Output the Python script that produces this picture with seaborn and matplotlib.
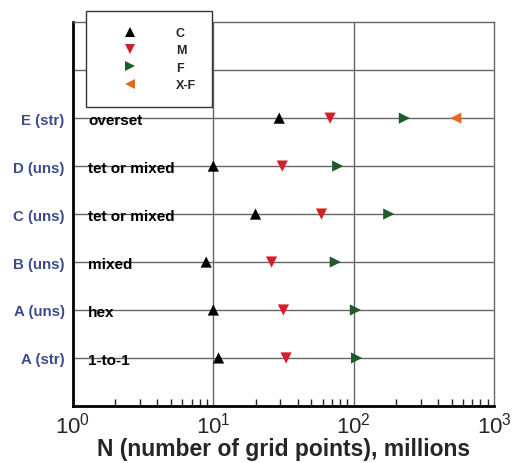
import numpy as np
import pandas as pd
import matplotlib
matplotlib.use("Agg")
import matplotlib.pyplot as plt
from matplotlib.ticker import LogLocator, NullFormatter
from matplotlib.lines import Line2D
import seaborn as sns

# Grid families, bottom to top
families = ["A (str)", "A (uns)", "B (uns)", "C (uns)", "D (uns)", "E (str)"]
grid_types = ["1-to-1", "hex", "mixed", "tet or mixed", "tet or mixed", "overset"]

# Grid sizes in millions of points per level
coarse = [10.9, 10.0, 8.9, 20.0, 10.0, 29.5]
medium = [33.0, 31.6, 26.0, 59.0, 31.0, 68.0]
fine = [105.0, 103.0, 74.0, 178.0, 77.0, 230.0]
extra_fine = [None, None, None, None, None, 535.0]

levels = ["C", "M", "F", "X-F"]
colors = {"C": "#000000", "M": "#d0202c", "F": "#1f5a2a", "X-F": "#e8681e"}
markers = {"C": "^", "M": "v", "F": ">", "X-F": "<"}

rows = []
for i, fam in enumerate(families):
    for lvl, vals in zip(levels, [coarse, medium, fine, extra_fine]):
        if vals[i] is not None:
            rows.append({"family": fam, "pos": i + 1, "level": lvl, "N": vals[i]})
df = pd.DataFrame(rows)

sns.set_theme(style="white")
plt.rcParams["font.family"] = ["Liberation Sans", "DejaVu Sans"]
plt.rcParams["mathtext.fontset"] = "custom"
plt.rcParams["mathtext.rm"] = "Liberation Sans"
plt.rcParams["mathtext.it"] = "Liberation Sans:italic"

fig = plt.figure(figsize=(5.14, 4.64), dpi=100)
ax = fig.add_axes([0.142, 0.123, 0.819, 0.827])
ax.set_xscale("log")

ax.set_axisbelow(True)
for y in range(1, 8):
    ax.axhline(y, color="#666666", lw=1.0, zorder=0)
for x in [10, 100]:
    ax.axvline(x, color="#666666", lw=1.0, zorder=0)

sns.scatterplot(data=df, x="N", y="pos", hue="level", style="level",
                palette=colors, markers=markers, hue_order=levels,
                style_order=levels, s=65, edgecolor="none", legend=False,
                ax=ax, zorder=3)

ax.set_xlim(1, 1000)
ax.set_ylim(0, 8)

ax.set_yticks(range(1, 7))
ax.set_yticklabels(families, color="#3b4a8c", fontweight="bold", fontsize=10.8)
ax.tick_params(axis="y", length=0, pad=6)

ax.xaxis.set_major_locator(LogLocator(base=10, numticks=10))
ax.xaxis.set_minor_locator(LogLocator(base=10, subs=np.arange(2, 10), numticks=10))
ax.xaxis.set_minor_formatter(NullFormatter())
ax.tick_params(axis="x", which="major", direction="in", length=7, width=1,
               labelsize=16, pad=4, top=False)
ax.tick_params(axis="x", which="minor", direction="in", length=5, width=1,
               bottom=True, top=False)
ax.set_xlabel("N (number of grid points), millions", fontsize=16.5,
              fontweight="bold", labelpad=0)
ax.set_ylabel("")

for side in ["left", "bottom"]:
    ax.spines[side].set_color("black")
    ax.spines[side].set_linewidth(2.0)
for side in ["top", "right"]:
    ax.spines[side].set_color("#666666")
    ax.spines[side].set_linewidth(1.0)

trans = matplotlib.transforms.blended_transform_factory(ax.transAxes, ax.transData)
for i, gt in enumerate(grid_types):
    ax.text(0.036, i + 1 - 0.04, gt, transform=trans, ha="left", va="center",
            fontsize=11, fontweight="bold", color="black", zorder=4)

handles = [Line2D([], [], linestyle="none", marker=markers[l], color=colors[l],
                  markersize=7.5, markeredgewidth=0) for l in levels]
leg = fig.legend(handles, levels, loc="upper left",
                 bbox_to_anchor=(86 / 514, 1 - 12 / 464), frameon=True,
                 fancybox=False, edgecolor="#333333", framealpha=1,
                 handletextpad=1.4, labelspacing=0.42, borderpad=1.3,
                 handlelength=4.5, prop={"weight": "bold", "size": 9},
                 borderaxespad=0)
leg.get_frame().set_linewidth(1.0)
leg.set_zorder(10)

fig.savefig("out.png", dpi=100, facecolor="white")
